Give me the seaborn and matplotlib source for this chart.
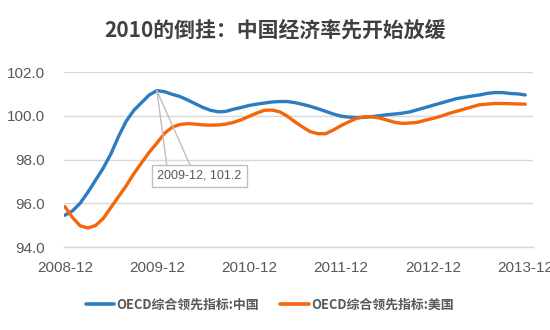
import numpy as np
import pandas as pd
import matplotlib
matplotlib.use("Agg")
import matplotlib.pyplot as plt
import seaborn as sns

# ---- data ----
tick_labels = ["2008-12", "2009-12", "2010-12", "2011-12", "2012-12", "2013-12"]
china = [95.45, 95.65, 96.0, 96.5, 97.05, 97.6, 98.25, 99.05, 99.75, 100.25,
         100.6, 100.95, 101.15, 101.1, 100.98, 100.88, 100.72, 100.55, 100.38, 100.25,
         100.18, 100.2, 100.3, 100.38, 100.47, 100.53, 100.58, 100.63, 100.65, 100.65,
         100.6, 100.52, 100.43, 100.32, 100.2, 100.08, 99.98, 99.94, 99.92, 99.93,
         99.96, 100.0, 100.05, 100.08, 100.12, 100.18, 100.28, 100.38, 100.48, 100.58,
         100.68, 100.78, 100.84, 100.9, 100.95, 101.02, 101.06, 101.06, 101.02, 101.0,
         100.95]
usa = [95.85, 95.35, 94.97, 94.87, 94.98, 95.3, 95.8, 96.3, 96.8, 97.35,
       97.85, 98.33, 98.75, 99.2, 99.48, 99.6, 99.64, 99.62, 99.58, 99.57,
       99.58, 99.62, 99.7, 99.82, 99.97, 100.12, 100.25, 100.26, 100.18, 99.98,
       99.72, 99.48, 99.27, 99.18, 99.18, 99.35, 99.55, 99.72, 99.88, 99.95,
       99.95, 99.9, 99.8, 99.7, 99.65, 99.67, 99.7, 99.8, 99.88, 99.98,
       100.1, 100.2, 100.3, 100.4, 100.5, 100.53, 100.56, 100.56, 100.55, 100.54,
       100.53]
series_names = ["OECD综合领先指标:中国", "OECD综合领先指标:美国"]
annot_label = "2009-12, 101.2"
peak_index = 12

months = np.arange(len(china))
df = pd.DataFrame({"month": np.concatenate([months, months]),
                   "value": china + usa,
                   "series": [series_names[0]] * len(china) + [series_names[1]] * len(usa)})

sns.set_theme(style="white")
plt.rcParams["font.family"] = ["Noto Sans CJK SC", "DejaVu Sans"]

colors = ["#2E7CC0", "#F5660A"]
grid_c = "#D9D9D9"
text_c = "#595959"

fig = plt.figure(figsize=(5.5, 3.3), dpi=100)
ax = fig.add_axes([0.1164, 0.2515, 0.969 - 0.1164, 0.7818 - 0.2515])

sns.lineplot(data=df, x="month", y="value", hue="series", palette=colors,
             linewidth=2.4, ax=ax, legend=True)

ax.set_ylim(94, 102)
ax.set_yticks(np.arange(94, 102.1, 2))
ax.set_yticklabels([f"{v:.1f}" for v in np.arange(94, 102.1, 2)],
                   family=["Liberation Sans", "DejaVu Sans"], fontsize=11, color=text_c)
ax.set_xlim(-0.1, 61.0)
ax.set_xticks(np.arange(0, 61, 12))
ax.set_xticklabels(tick_labels, family=["Liberation Sans", "DejaVu Sans"], fontsize=11, color=text_c)
ax.set_xlabel("")
ax.set_ylabel("")
ax.grid(axis="y", color=grid_c, linewidth=1)
ax.set_axisbelow(True)
for s in ["left", "right", "top"]:
    ax.spines[s].set_visible(False)
ax.spines["bottom"].set_color(grid_c)
ax.spines["bottom"].set_linewidth(1)
ax.tick_params(axis="x", length=5, width=1, color=grid_c, pad=5, direction="out")
ax.tick_params(axis="y", length=0, pad=14)

# callout
px, py = months[peak_index], china[peak_index]
for tx in (13.3, 16.35):
    ax.annotate("", xy=(px, py), xytext=(tx, 97.72),
                arrowprops=dict(arrowstyle="-", color="#BFBFBF", lw=1, shrinkA=0, shrinkB=0))
ax.text(17.55, 97.25, annot_label, ha="center", va="center", fontsize=9,
        family=["Liberation Sans", "DejaVu Sans"], color=text_c,
        bbox=dict(boxstyle="square,pad=0.42", fc="white", ec="#BFBFBF", lw=1))

fig.suptitle("2010的倒挂：中国经济率先开始放缓", x=0.5, y=0.94, fontsize=15,
             fontweight="bold", color="#404040")

ax.get_legend().remove()
handles, labels = ax.get_legend_handles_labels()
leg = fig.legend(handles, labels, loc="center", bbox_to_anchor=(0.49, 0.076), ncol=2,
                 frameon=False, handlelength=2.2, handletextpad=0.15, columnspacing=1.7,
                 prop={"family": ["Noto Sans CJK SC", "DejaVu Sans"], "size": 9.3, "weight": "bold"})
for t in leg.get_texts():
    t.set_color(text_c)
for l in leg.get_lines():
    l.set_linewidth(2.6)

fig.savefig("out.png", dpi=100)
